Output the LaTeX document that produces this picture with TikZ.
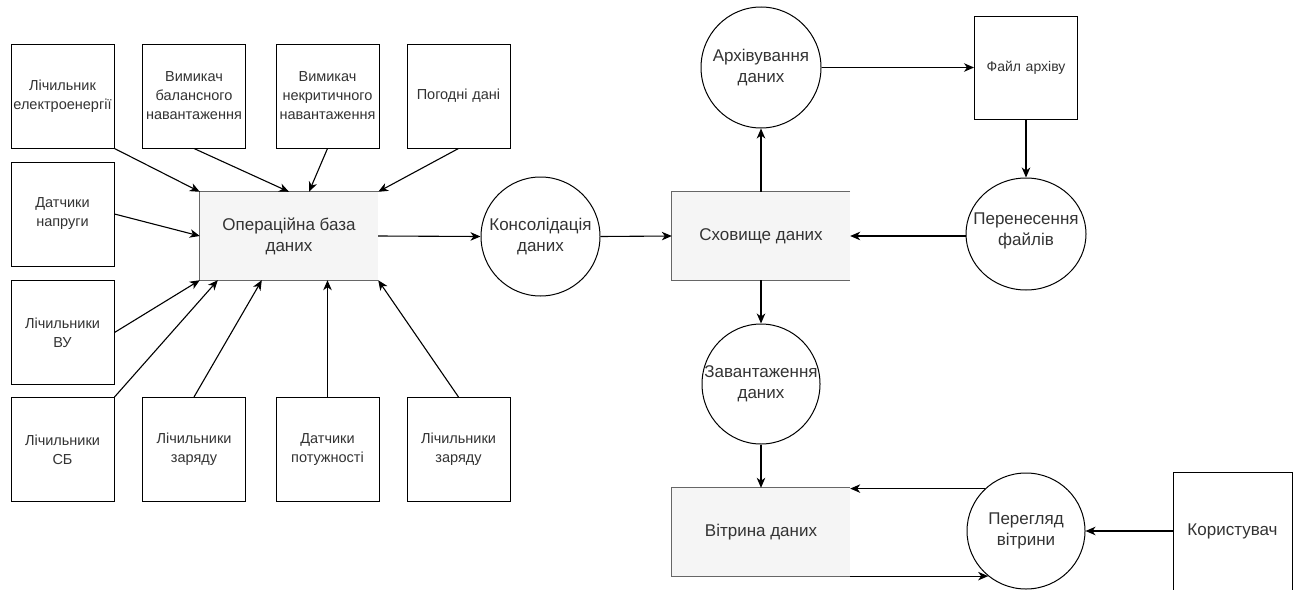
\documentclass[tikz,border=0pt]{standalone}
\usepackage{fontspec}
\setmainfont{Liberation Sans}
\usetikzlibrary{arrows.meta,shapes.geometric}

\definecolor{txt}{HTML}{333333}
\definecolor{rimgray}{HTML}{666666}
\definecolor{pane}{HTML}{F5F5F5}

\tikzset{
  src/.style={draw=black, line width=1pt, fill=white, minimum width=103pt,
    minimum height=104pt, text width=103pt, inner sep=0pt, align=center,
    font=\fontsize{14.5}{19}\selectfont, text=txt},
  store/.style={fill=pane, minimum width=178pt, minimum height=88pt,
    inner sep=0pt, align=center, font=\fontsize{17}{21}\selectfont, text=txt},
  proc/.style={ellipse, draw=black, line width=1pt, inner sep=0pt,
    minimum width=119pt, minimum height=119pt},
  ptext/.style={inner sep=0pt, align=center, font=\fontsize{17}{21}\selectfont, text=txt},
  rim/.style={draw=rimgray, line width=1pt},
  arr/.style={-{Stealth[length=10pt,width=8.5pt,inset=3pt]}, line width=1.1pt, black}
}

\begin{document}
\begin{tikzpicture}[x=1pt,y=-1pt]
\useasboundingbox (0,0) rectangle (1300,589);

% data sources
\node[src] (s1)  at (62.5,96)   {Лічильник\\\makebox[103pt][c]{електроенергії}};
\node[src] (s2)  at (194,96)    {Вимикач\\балансного\\навантаження};
\node[src] (s3)  at (327.5,96)  {Вимикач\\некритичного\\навантаження};
\node[src] (s4)  at (458.5,96)  {Погодні дані};
\node[src] (s5)  at (62.5,214)  {Датчики\\напруги};
\node[src] (s6)  at (62.5,332.5){Лічильники\\ВУ};
\node[src] (s7)  at (62.5,449.5){Лічильники\\СБ};
\node[src] (s8)  at (194,449.5) {Лічильники\\заряду};
\node[src] (s9)  at (327.5,449.5){Датчики\\потужності};
\node[src] (s10) at (458.5,449.5){Лічильники\\заряду};

% data stores (open on the right side)
\node[store] (db)   at (289,236) {Операційна база\\даних};
\node[store] (shov) at (761,236) {Сховище даних};
\node[store] (vit)  at (761,532) {Вітрина даних};
\foreach \n in {db,shov,vit}
  \draw[rim] (\n.north east) -- (\n.north west) -- (\n.south west) -- (\n.south east);

% processes
\node[proc] (cons) at (540.5,236.5) {};
\node[ptext] (cons-t) at (cons) {Консолідація\\даних};
\node[proc, minimum width=120pt, minimum height=121pt] (arch) at (761,67.5) {};
\node[ptext] (arch-t) at (arch) {Архівування\\даних};
\node[proc, minimum width=120pt, minimum height=112pt] (pern) at (1026,234) {};
\node[ptext] (pern-t) at ([yshift=3pt]pern) {Перенесення\\файлів};
\node[proc, minimum width=118pt, minimum height=120pt] (zav) at (761,384) {};
\node[ptext] (zav-t) at (zav) {Завантаження\\даних};
\node[proc, minimum width=118pt, minimum height=116pt] (pv) at (1026,531) {};
\node[ptext] (pv-t) at (pv) {Перегляд\\вітрини};

% external entities
\node[src, minimum height=103pt, font=\fontsize{14}{19}\selectfont] (file) at (1026,67.5) {Файл архіву};
\node[src, minimum width=119pt, text width=119pt, minimum height=118pt,
      font=\fontsize{17}{21}\selectfont] (usr) at (1232.5,531) {Користувач};

% sources into the operational database
\draw[arr] (s1.south east) -- (db.north west);
\draw[arr] (s2.south) -- (db.north);
\draw[arr] (s3.south) -- ([xshift=20pt]db.north);
\draw[arr] (s4.south) -- (db.north east);
\draw[arr] (s5.east) -- (db.west);
\draw[arr] (s6.east) -- (db.south west);
\draw[arr] (s7.north east) -- ([xshift=18pt]db.south west);
\draw[arr] (s8.north) -- ([xshift=62pt]db.south west);
\draw[arr] (s9.north) -- (s9.north |- db.south);
\draw[arr] (s10.north) -- (db.south east);

% main flow
\draw[arr] (db.east) -- (cons.west);
\draw[arr] (cons.east) -- (shov.west);
\draw[arr] (shov.north) -- (arch.south);
\draw[arr] (arch.east) -- (file.west);
\draw[arr] (file.south) -- (pern.north);
\draw[arr] (shov.east -| pern.west) -- (shov.east);
\draw[arr] (shov.south) -- (zav.north);
\draw[arr] (zav.south) -- (vit.north);
\draw[arr] (pv.134) -- (vit.east |- pv.134);
\draw[arr] (vit.east |- pv.230) -- (pv.230);
\draw[arr] (usr.west) -- (pv.east);
\end{tikzpicture}
\end{document}
